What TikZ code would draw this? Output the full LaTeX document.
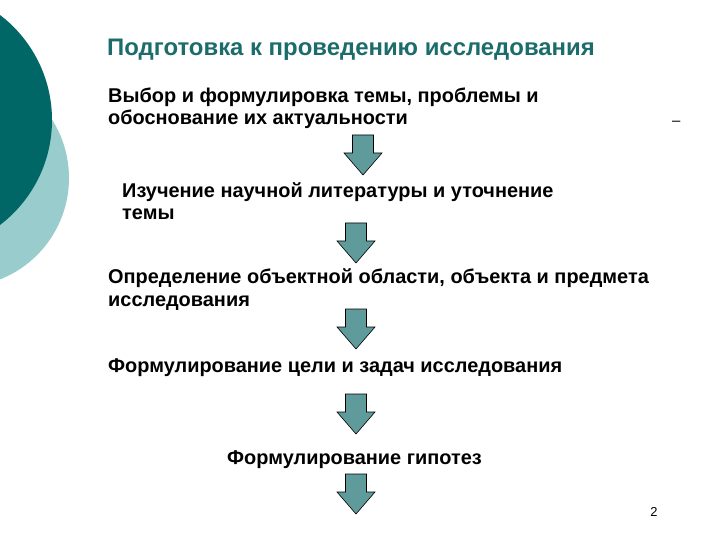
\documentclass[tikz,border=0pt]{standalone}
\usepackage{fontspec}
\setmainfont{Liberation Sans}
\usepackage{xcolor}
\usetikzlibrary{positioning}
\definecolor{tealdark}{RGB}{0, 102, 102}
\definecolor{teallight}{RGB}{153, 204, 204}
\definecolor{tealarrow}{RGB}{95, 155, 155}
\definecolor{tealtitle}{RGB}{28, 108, 108}

\tikzset{
    stagetext/.style={anchor=base west, align=left, inner sep=0pt,
        font=\bfseries\fontsize{20}{23}\selectfont},
    pics/downarrow/.style={code={
        \fill[tealarrow, draw=black, line width=0.6bp]
            (-10.5,0) -- (10.5,0) -- (10.5,18) -- (19,18) -- (0,40)
            -- (-19,18) -- (-10.5,18) -- cycle;
    }}
}

\begin{document}
\begin{tikzpicture}[x=1bp, y=-1bp]
    \useasboundingbox (0,0) rectangle (720,540);

    % Background circles
    \fill[teallight] (-40,178) circle (109);
    \fill[tealdark] (-80,120) circle (132);

    % Title
    \node[stagetext, text=tealtitle, font=\bfseries\fontsize{24}{28}\selectfont]
        (title) at (107,56) {Подготовка к проведению исследования};

    % Stages (base anchor = last line)
    \node[stagetext] (choice) at (108,125)
        {Выбор и формулировка темы, проблемы и\\обоснование их актуальности};
    \node[anchor=base west, inner sep=0pt, font=\fontsize{15}{16}\selectfont]
        (dash) at (672,126) {–};
    \pic at (363,135) {downarrow};

    \node[stagetext] (study) at (122,220)
        {Изучение научной литературы и уточнение\\темы};
    \pic at (356,223) {downarrow};

    \node[stagetext] (object) at (108,306)
        {Определение объектной области, объекта и предмета\\исследования};
    \pic at (356,309) {downarrow};

    \node[stagetext] (goal) at (108,372)
        {Формулирование цели и задач исследования};
    \pic at (356,394) {downarrow};

    \node[stagetext] (hypo) at (227,464)
        {Формулирование гипотез};
    \pic at (356,474) {downarrow};

    % Page number
    \node[anchor=base, inner sep=0pt, font=\fontsize{13}{15}\selectfont]
        (page) at (654,516) {2};
\end{tikzpicture}
\end{document}
